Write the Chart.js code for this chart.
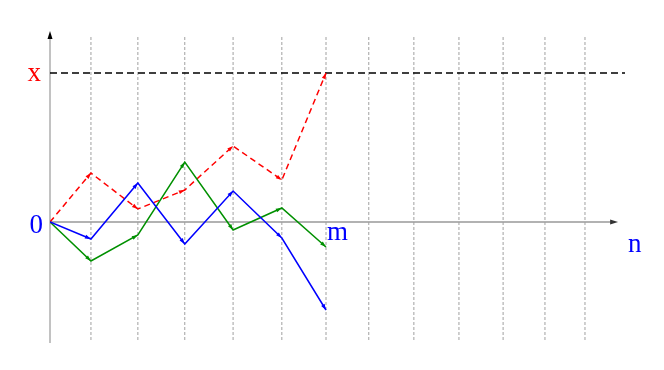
<!DOCTYPE html>
<html>
<head>
<meta charset="utf-8">
<script src="https://cdn.jsdelivr.net/npm/chart.js@4"></script>
<style>
  html, body { margin: 0; background: #fff; }
  #wrap { width: 664px; height: 370px; }
</style>
</head>
<body>
<div id="wrap"><canvas id="walkChart"></canvas></div>
<script>
// step positions (x) and walk values (y), axis origin at 0
const steps = [0, 0.89, 1.91, 2.93, 3.98, 5.04, 6.0];
const redWalk = [0, 4.9, 1.3, 3.2, 7.6, 4.2, 14.9];
const greenWalk = [0, -3.9, -1.3, 6.0, -0.8, 1.4, -2.5];
const blueWalk = [0, -1.7, 3.9, -2.2, 3.1, -1.6, -8.8];
const gridSteps = [0.89, 1.91, 2.93, 3.98, 5.04, 6.0, 6.93, 7.91, 8.89, 9.85, 10.76, 11.63];
const barrier = 14.9;
const stepM = 6.0;
const stepN = 12.35;

const toPoints = (vals) => vals.map((v, i) => ({ x: steps[i], y: v }));

// vertical dotted lines, broken with nulls
const gridPoints = [];
gridSteps.forEach(g => {
    gridPoints.push({ x: g, y: 18.5 }, { x: g, y: -11.8 }, { x: g, y: null });
});

const serif = '"Liberation Serif", "DejaVu Serif", serif';

const axesPlugin = {
    id: 'axes',
    beforeDatasetsDraw(chart) {
        const { ctx, chartArea, scales: { x, y } } = chart;
        const x0 = x.getPixelForValue(0);
        const y0 = y.getPixelForValue(0);
        const xEnd = x.getPixelForValue(stepN);
        ctx.save();
        // vertical axis
        ctx.strokeStyle = '#999';
        ctx.lineWidth = 1.2;
        ctx.beginPath();
        ctx.moveTo(x0, chartArea.bottom);
        ctx.lineTo(x0, chartArea.top + 4);
        ctx.stroke();
        ctx.fillStyle = '#000';
        ctx.beginPath();
        ctx.moveTo(x0, chartArea.top);
        ctx.lineTo(x0 - 2.5, chartArea.top + 8);
        ctx.lineTo(x0 + 2.5, chartArea.top + 8);
        ctx.closePath();
        ctx.fill();
        // horizontal axis
        ctx.strokeStyle = '#666';
        ctx.beginPath();
        ctx.moveTo(x0, y0);
        ctx.lineTo(xEnd - 4, y0);
        ctx.stroke();
        ctx.fillStyle = '#333';
        ctx.beginPath();
        ctx.moveTo(xEnd, y0);
        ctx.lineTo(xEnd - 8, y0 - 2.5);
        ctx.lineTo(xEnd - 8, y0 + 2.5);
        ctx.closePath();
        ctx.fill();
        ctx.restore();
    },
    afterDatasetsDraw(chart) {
        const { ctx, scales: { x, y } } = chart;
        const x0 = x.getPixelForValue(0);
        const y0 = y.getPixelForValue(0);
        ctx.save();
        // small arrowheads at each segment end
        chart.data.datasets.forEach((ds, i) => {
            if (!ds.arrows) return;
            const pts = chart.getDatasetMeta(i).data;
            ctx.fillStyle = ds.borderColor;
            for (let k = 1; k < pts.length; k++) {
                const a = pts[k - 1], b = pts[k];
                const ang = Math.atan2(b.y - a.y, b.x - a.x);
                ctx.save();
                ctx.translate(b.x, b.y);
                ctx.rotate(ang);
                ctx.beginPath();
                ctx.moveTo(0, 0);
                ctx.lineTo(-6, -2);
                ctx.lineTo(-6, 2);
                ctx.closePath();
                ctx.fill();
                ctx.restore();
            }
        });
        // labels
        ctx.font = '27px ' + serif;
        ctx.textBaseline = 'alphabetic';
        ctx.fillStyle = '#ff0000';
        ctx.textAlign = 'right';
        ctx.fillText('x', x0 - 9, y.getPixelForValue(barrier) + 8);
        ctx.fillStyle = '#0000ff';
        ctx.fillText('0', x0 - 7, y0 + 11);
        ctx.textAlign = 'left';
        ctx.fillText('m', x.getPixelForValue(stepM) + 1, y0 + 18);
        ctx.fillText('n', x.getPixelForValue(stepN) + 10, y0 + 30);
        ctx.restore();
    }
};

new Chart(document.getElementById('walkChart'), {
    type: 'line',
    data: {
        datasets: [
            {
                data: toPoints(blueWalk),
                borderColor: '#0000ff',
                borderWidth: 1.5,
                pointRadius: 0,
                arrows: true
            },
            {
                data: toPoints(greenWalk),
                borderColor: '#009000',
                borderWidth: 1.5,
                pointRadius: 0,
                arrows: true
            },
            {
                data: toPoints(redWalk),
                borderColor: '#ff0000',
                borderWidth: 1.5,
                borderDash: [6, 4],
                pointRadius: 0,
                arrows: true
            },
            {
                data: [{ x: 0, y: barrier }, { x: 12.5, y: barrier }],
                borderColor: '#000',
                borderWidth: 1.5,
                borderDash: [7, 4],
                pointRadius: 0
            },
            {
                data: gridPoints,
                borderColor: '#a0a0a0',
                borderWidth: 1,
                borderDash: [3, 2],
                pointRadius: 0,
                spanGaps: false
            }
        ]
    },
    options: {
        responsive: true,
        maintainAspectRatio: false,
        animation: false,
        layout: { padding: { left: 50, right: 39, top: 31, bottom: 27 } },
        scales: {
            x: { type: 'linear', display: false, min: 0, max: 12.5 },
            y: { type: 'linear', display: false, min: -12.1, max: 19.1 }
        },
        plugins: {
            legend: { display: false },
            tooltip: { enabled: false }
        }
    },
    plugins: [axesPlugin]
});
</script>
</body>
</html>
